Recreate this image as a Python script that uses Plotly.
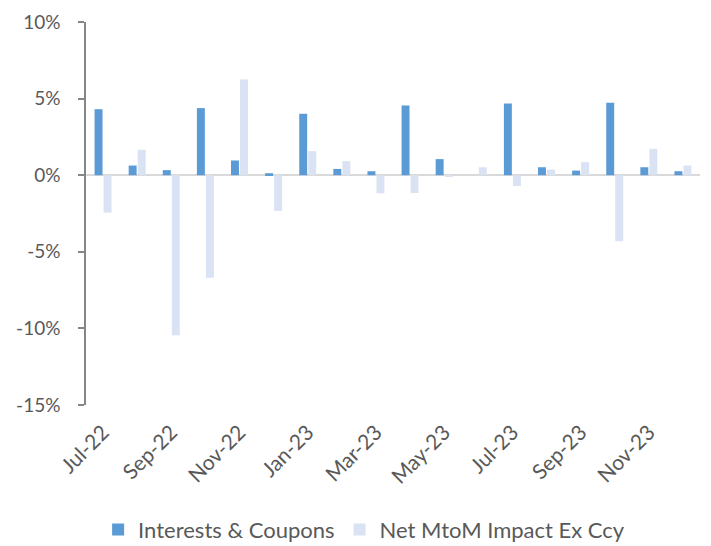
import plotly.graph_objects as go

months = ["Jul-22", "Aug-22", "Sep-22", "Oct-22", "Nov-22", "Dec-22",
          "Jan-23", "Feb-23", "Mar-23", "Apr-23", "May-23", "Jun-23",
          "Jul-23", "Aug-23", "Sep-23", "Oct-23", "Nov-23", "Dec-23"]
interests_coupons = [4.31, 0.63, 0.33, 4.38, 0.96, 0.13,
                     4.01, 0.41, 0.26, 4.55, 1.05, 0.0,
                     4.68, 0.52, 0.30, 4.73, 0.52, 0.26]
net_mtom = [-2.44, 1.66, -10.44, -6.69, 6.25, -2.33,
            1.57, 0.92, -1.18, -1.16, -0.10, 0.52,
            -0.70, 0.37, 0.85, -4.31, 1.72, 0.63]
tick_labels = ["Jul-22", "Sep-22", "Nov-22", "Jan-23", "Mar-23",
               "May-23", "Jul-23", "Sep-23", "Nov-23"]
y_ticks = [-15, -10, -5, 0, 5, 10]

fig = go.Figure()
fig.add_trace(go.Bar(x=months, y=interests_coupons, name="Interests & Coupons",
                     marker=dict(color="#5B9BD5", line=dict(width=0))))
fig.add_trace(go.Bar(x=months, y=net_mtom, name="Net MtoM Impact Ex Ccy",
                     marker=dict(color="#DAE3F3", line=dict(width=0))))

font_family = "Lato, 'Open Sans', sans-serif"
fig.update_layout(
    width=711, height=546,
    margin=dict(l=86, r=11, t=22, b=141, autoexpand=False),
    paper_bgcolor="white", plot_bgcolor="white",
    barmode="group", bargap=0.47, bargroupgap=0.12,
    font=dict(family=font_family, color="#595959"),
    showlegend=True,
    legend=dict(orientation="h", x=0.138, xanchor="left", xref="container",
                y=0.03, yanchor="middle", yref="container",
                font=dict(size=22, color="#595959"),
                traceorder="normal"),
    xaxis=dict(
        type="category", tickmode="array", tickvals=tick_labels, ticktext=tick_labels,
        tickangle=-45, tickfont=dict(size=21, color="#595959"),
        showgrid=False, showline=False, ticks="", zeroline=False,
        automargin=False, ticklabelstandoff=10,
    ),
    yaxis=dict(
        range=[-15, 10], tickvals=y_ticks,
        ticktext=[f"{v}%" for v in y_ticks],
        tickfont=dict(size=19, color="#595959"),
        showgrid=False, showline=True, linecolor="#868686", linewidth=1.5,
        ticks="outside", ticklen=6, tickcolor="#868686", tickwidth=1.5,
        zeroline=True, zerolinecolor="#D9D9D9", zerolinewidth=2,
        ticklabelstandoff=14, automargin=False,
    ),
)

fig.write_html("out.html", config={"displayModeBar": False},
               post_script="document.body.style.margin='0';")
